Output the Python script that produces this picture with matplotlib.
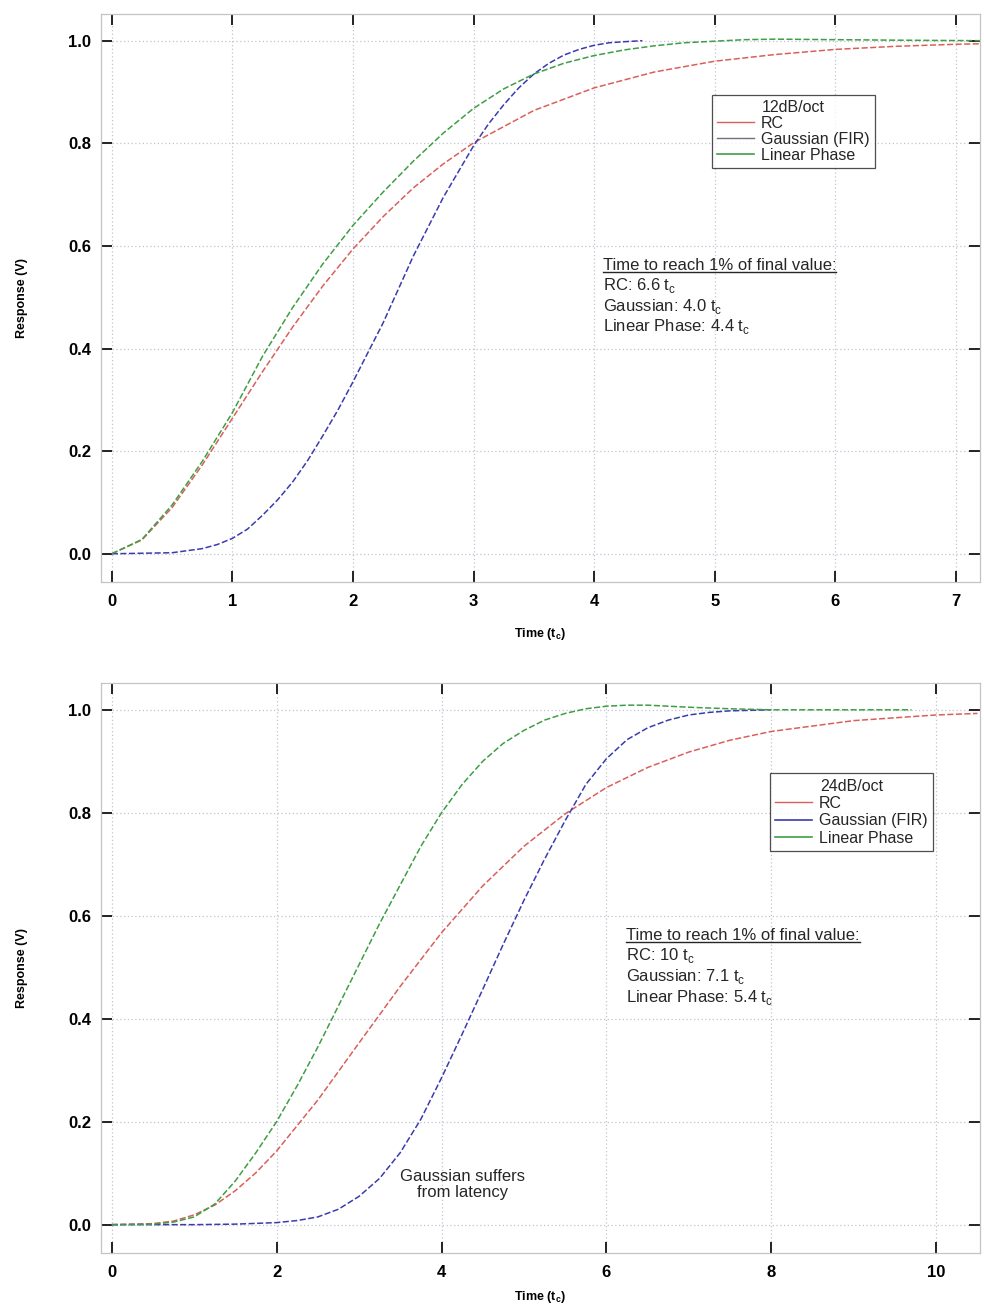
import matplotlib
matplotlib.use('Agg')
import matplotlib.pyplot as plt
from matplotlib.lines import Line2D

plt.rcParams['font.family'] = ['Liberation Sans', 'DejaVu Sans']

# 12dB/oct step responses
t_rc_12 = [0, 0.25, 0.5, 0.75, 1.0, 1.25, 1.5, 1.75, 2.0, 2.25, 2.5, 2.75, 3.0, 3.5, 4.0, 4.5, 5.0, 5.5, 6.0, 6.5, 7.0, 7.2]
rc_12 = [0, 0.027, 0.09, 0.173, 0.264, 0.355, 0.442, 0.522, 0.594, 0.657, 0.713, 0.76, 0.801, 0.864, 0.908, 0.939, 0.96, 0.973, 0.983, 0.989, 0.993, 0.994]

t_gauss_12 = [0, 0.5, 0.75, 0.875, 1.0, 1.125, 1.25, 1.375, 1.5, 1.625, 1.75, 1.875, 2.0, 2.25, 2.5, 2.75,
              3.0, 3.125, 3.25, 3.375, 3.5, 3.625, 3.75, 3.875, 4.0, 4.125, 4.25, 4.4]
gauss_12 = [0, 0.002, 0.01, 0.018, 0.03, 0.048, 0.075, 0.105, 0.14, 0.182, 0.23, 0.28, 0.335, 0.45, 0.58, 0.695,
            0.795, 0.838, 0.875, 0.908, 0.935, 0.956, 0.972, 0.983, 0.991, 0.996, 0.998, 1.0]

t_lin_12 = [0, 0.25, 0.5, 0.75, 1.0, 1.25, 1.5, 1.75, 2.0, 2.25, 2.5, 2.75, 3.0, 3.25, 3.5, 3.75, 4.0, 4.25,
            4.5, 4.75, 5.0, 5.25, 5.5, 6.0, 6.5, 7.2]
lin_12 = [0, 0.028, 0.095, 0.18, 0.275, 0.385, 0.48, 0.565, 0.64, 0.705, 0.765, 0.82, 0.868, 0.906, 0.935, 0.956,
          0.971, 0.982, 0.99, 0.996, 0.999, 1.002, 1.003, 1.002, 1.001, 1.0]

# 24dB/oct step responses
t_rc_24 = [0, 0.5, 0.75, 1.0, 1.25, 1.5, 1.75, 2.0, 2.5, 3.0, 3.5, 4.0, 4.5, 5.0, 5.5, 6.0, 6.5, 7.0, 7.5, 8.0,
           9.0, 10.0, 10.5]
rc_24 = [0, 0.002, 0.007, 0.019, 0.038, 0.066, 0.101, 0.143, 0.242, 0.353, 0.463, 0.567, 0.658, 0.735, 0.798,
         0.849, 0.888, 0.918, 0.941, 0.958, 0.979, 0.99, 0.993]

t_gauss_24 = [0, 1.0, 1.5, 2.0, 2.25, 2.5, 2.75, 3.0, 3.25, 3.5, 3.75, 4.0, 4.25, 4.5, 4.75, 5.0, 5.25, 5.5,
              5.75, 6.0, 6.25, 6.5, 6.75, 7.0, 7.25, 7.5, 8.0]
gauss_24 = [0, 0.0, 0.001, 0.004, 0.008, 0.015, 0.03, 0.055, 0.09, 0.14, 0.205, 0.285, 0.37, 0.457, 0.545,
            0.63, 0.71, 0.785, 0.855, 0.905, 0.942, 0.965, 0.98, 0.99, 0.995, 0.998, 1.0]

t_lin_24 = [0, 0.5, 0.75, 1.0, 1.25, 1.5, 1.75, 2.0, 2.25, 2.5, 2.75, 3.0, 3.25, 3.5, 3.75, 4.0, 4.25, 4.5,
            4.75, 5.0, 5.25, 5.5, 5.75, 6.0, 6.25, 6.5, 6.75, 7.0, 7.5, 8.0, 9.7]
lin_24 = [0, 0.001, 0.005, 0.015, 0.04, 0.085, 0.14, 0.2, 0.27, 0.345, 0.425, 0.505, 0.585, 0.66, 0.735, 0.8,
          0.855, 0.9, 0.935, 0.96, 0.98, 0.993, 1.002, 1.007, 1.009, 1.009, 1.007, 1.005, 1.002, 1.0, 1.0]

labels = ['RC', 'Gaussian (FIR)', 'Linear Phase']
notes_12 = ['RC: 6.6 t$_{\\mathregular{c}}$', 'Gaussian: 4.0 t$_{\\mathregular{c}}$', 'Linear Phase: 4.4 t$_{\\mathregular{c}}$']
notes_24 = ['RC: 10 t$_{\\mathregular{c}}$', 'Gaussian: 7.1 t$_{\\mathregular{c}}$', 'Linear Phase: 5.4 t$_{\\mathregular{c}}$']

red = '#d9605a'
blue = '#3b3bb0'
green = '#3e9e44'
dash = (0, (4, 1.6))
txt = '#262626'

fig = plt.figure(figsize=(9.84, 13.09), dpi=100)
ax1 = fig.add_axes([0.1026, 0.5554, 0.8933, 0.4339])
ax2 = fig.add_axes([0.1026, 0.0428, 0.8933, 0.4354])


def style(ax, xlim, xticks):
    ax.set_xlim(*xlim)
    ax.set_ylim(-0.055, 1.052)
    ax.set_xticks(xticks)
    ax.set_yticks([0, 0.2, 0.4, 0.6, 0.8, 1.0])
    ax.set_yticklabels(['0.0', '0.2', '0.4', '0.6', '0.8', '1.0'])
    ax.tick_params(direction='in', length=8, width=1.4, color='#222222',
                   top=True, right=True, labelsize=12)
    ax.tick_params(axis='x', pad=9)
    ax.tick_params(axis='y', pad=7)
    for lab in ax.get_xticklabels() + ax.get_yticklabels():
        lab.set_fontweight('bold')
    for sp in ax.spines.values():
        sp.set_color('#c4c4c4')
        sp.set_linewidth(0.9)
    ax.grid(True, color='#c0c4d2', linestyle=(0, (1, 2)), linewidth=0.9)
    ax.set_ylabel('Response (V)', fontsize=9, fontweight='bold')
    ax.set_xlabel('Time (t$_{\\mathregular{c}}$)', fontsize=9, fontweight='bold')
    ax.yaxis.set_label_coords(-0.083, 0.5)


style(ax1, (-0.09, 7.2), range(0, 8))
style(ax2, (-0.13, 10.53), [0, 2, 4, 6, 8, 10])
ax1.xaxis.set_label_coords(0.5, -0.078)
ax2.xaxis.set_label_coords(0.5, -0.064)

ax1.plot(t_rc_12, rc_12, color=red, lw=1.1, ls=dash)
ax1.plot(t_gauss_12, gauss_12, color=blue, lw=1.1, ls=dash)
ax1.plot(t_lin_12, lin_12, color=green, lw=1.1, ls=dash)

ax2.plot(t_rc_24, rc_24, color=red, lw=1.1, ls=dash)
ax2.plot(t_gauss_24, gauss_24, color=blue, lw=1.1, ls=dash)
ax2.plot(t_lin_24, lin_24, color=green, lw=1.1, ls=dash)

handles_12 = [Line2D([], [], color=red, lw=1), Line2D([], [], color='#707080', lw=1),
              Line2D([], [], color=green, lw=1.2)]
handles_24 = [Line2D([], [], color=red, lw=1), Line2D([], [], color=blue, lw=1.2),
              Line2D([], [], color=green, lw=1.2)]

for ax, hs, title, anchor, spacing in [(ax1, handles_12, '12dB/oct', (0.695, 0.858), 0.05),
                                       (ax2, handles_24, '24dB/oct', (0.761, 0.842), 0.15)]:
    leg = ax.legend(hs, labels, title=title, loc='upper left', bbox_to_anchor=anchor,
                    borderaxespad=0, fontsize=11.5, title_fontsize=11.5, frameon=True,
                    fancybox=False, edgecolor='#222222', handlelength=2.3,
                    handletextpad=0.4, labelspacing=spacing, borderpad=0.35)
    leg.get_frame().set_linewidth(0.9)
    for t in leg.get_texts():
        t.set_color(txt)
    leg.get_title().set_color(txt)

# notes on time to settle
heads = []
for ax, notes, x0 in [(ax1, notes_12, 4.07), (ax2, notes_24, 6.24)]:
    h = ax.text(x0, 0.561, 'Time to reach 1% of final value:', fontsize=12,
                color=txt, va='center', ha='left')
    heads.append((ax, h))
    for i, s in enumerate(notes):
        ax.text(x0, 0.522 - i * 0.04, s, fontsize=12, color=txt,
                va='center', ha='left')

ax2.text(4.26, 0.078, 'Gaussian suffers\nfrom latency', fontsize=12, color=txt,
         ha='center', va='center', linespacing=1.15)

# underline the headers
fig.canvas.draw()
r = fig.canvas.get_renderer()
for ax, h in heads:
    bb = h.get_window_extent(r)
    inv = ax.transAxes.inverted()
    (x0, y0), (x1, y1) = inv.transform([(bb.x0, bb.y0 + 1), (bb.x1, bb.y0 + 1)])
    ax.add_line(Line2D([x0, x1], [y0, y1], transform=ax.transAxes, color=txt, lw=1.0))

fig.savefig('out.png', dpi=100)
